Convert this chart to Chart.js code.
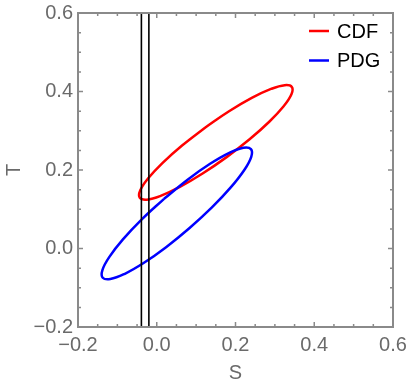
<!DOCTYPE html>
<html>
<head>
<meta charset="utf-8">
<script src="https://cdn.jsdelivr.net/npm/chart.js@4.4.0/dist/chart.umd.min.js"></script>
<style>
  html, body { margin: 0; padding: 0; background: #fff; }
  #chart { display: block; }
</style>
</head>
<body>
<canvas id="chart" width="409" height="389"></canvas>
<script>
// Ellipse outlines (S, T), walked round once
const cdfS = [0.1226, 0.0643, 0.0143, -0.0223, -0.0421, -0.0431, -0.0251, 0.0099, 0.0587, 0.1164, 0.1774,
              0.2358, 0.2857, 0.3223, 0.3421, 0.3431, 0.3251, 0.2901, 0.2413, 0.1836, 0.1226];
const cdfT = [0.3078, 0.2624, 0.2177, 0.1782, 0.1477, 0.1292, 0.1245, 0.1341, 0.1570, 0.1910, 0.2328,
              0.2782, 0.3229, 0.3624, 0.3929, 0.4114, 0.4161, 0.4065, 0.3836, 0.3496, 0.3078];

const pdgS = [0.0186, -0.0380, -0.0859, -0.1203, -0.1380, -0.1372, -0.1180, -0.0822, -0.0334, 0.0237, 0.0834,
              0.1401, 0.1879, 0.2223, 0.2400, 0.2392, 0.2200, 0.1842, 0.1354, 0.0783, 0.0186];
const pdgT = [0.1266, 0.0742, 0.0232, -0.0213, -0.0549, -0.0744, -0.0779, -0.0650, -0.0370, 0.0034, 0.0522,
              0.1046, 0.1556, 0.2001, 0.2337, 0.2532, 0.2567, 0.2438, 0.2158, 0.1754, 0.1266];

// vertical bounds on S
const boundS = [-0.039, -0.020];

const axisMin = -0.2;
const axisMax = 0.6;
const majorStep = 0.2;
const minorStep = 0.05;

const seriesNames = ["CDF", "PDG"];
const seriesColors = ["#ff0000", "#0000ff"];

const toPoints = (xs, ys) => xs.map((x, i) => ({ x: x, y: ys[i] }));

const fmt = v => {
  if (Math.abs(v) < 1e-9) v = 0;
  return v.toFixed(1).replace("-", "\u2212");
};

const frameColor = "#8a8a8a";
const labelColor = "#6a6a6a";

// frame with inward ticks on all four sides
const framePlugin = {
  id: "frame",
  afterDraw(chart) {
    const { ctx, chartArea: a, scales } = chart;
    const xs = scales.x, ys = scales.y;
    ctx.save();
    ctx.strokeStyle = frameColor;
    ctx.lineWidth = 1.5;
    const n = Math.round((axisMax - axisMin) / minorStep);
    for (let i = 0; i <= n; i++) {
      const v = axisMin + i * minorStep;
      const major = i % Math.round(majorStep / minorStep) === 0;
      const len = major ? 5 : 3;
      const px = xs.getPixelForValue(v);
      const py = ys.getPixelForValue(v);
      ctx.beginPath();
      ctx.moveTo(px, a.bottom); ctx.lineTo(px, a.bottom - len);
      ctx.moveTo(px, a.top); ctx.lineTo(px, a.top + len);
      ctx.moveTo(a.left, py); ctx.lineTo(a.left + len, py);
      ctx.moveTo(a.right, py); ctx.lineTo(a.right - len, py);
      ctx.stroke();
    }
    ctx.lineWidth = 2;
    ctx.strokeRect(a.left, a.top, a.right - a.left, a.bottom - a.top);
    ctx.restore();
  }
};

// legend inside the top right corner
const legendPlugin = {
  id: "insideLegend",
  afterDraw(chart) {
    const { ctx } = chart;
    ctx.save();
    ctx.font = "20px 'Liberation Sans', Arial, sans-serif";
    ctx.textBaseline = "middle";
    ctx.fillStyle = "#000";
    seriesNames.forEach((name, i) => {
      const y = 31 + i * 29.5;
      ctx.strokeStyle = seriesColors[i];
      ctx.lineWidth = 2.5;
      ctx.beginPath();
      ctx.moveTo(309, y);
      ctx.lineTo(329, y);
      ctx.stroke();
      ctx.fillText(name, 337, y + 1);
    });
    ctx.restore();
  }
};

const ctx = document.getElementById("chart").getContext("2d");
new Chart(ctx, {
  type: "scatter",
  data: {
    datasets: [
      {
        label: seriesNames[0],
        data: toPoints(cdfS, cdfT),
        showLine: true,
        borderColor: seriesColors[0],
        borderWidth: 2.5,
        pointRadius: 0,
        tension: 0.4,
        fill: false,
        order: 2
      },
      {
        label: seriesNames[1],
        data: toPoints(pdgS, pdgT),
        showLine: true,
        borderColor: seriesColors[1],
        borderWidth: 2.5,
        pointRadius: 0,
        tension: 0.4,
        fill: false,
        order: 1
      },
      ...boundS.map(s => ({
        label: "bound",
        data: [{ x: s, y: axisMin }, { x: s, y: axisMax }],
        showLine: true,
        borderColor: "#000",
        borderWidth: 1.6,
        pointRadius: 0,
        order: 0
      }))
    ]
  },
  options: {
    responsive: false,
    animation: false,
    devicePixelRatio: 1,
    layout: { padding: { top: 13, right: 16, left: 0, bottom: 0 } },
    plugins: {
      legend: { display: false },
      tooltip: { enabled: false }
    },
    scales: {
      x: {
        type: "linear",
        min: axisMin,
        max: axisMax,
        afterFit: s => { s.height = 62; s.paddingLeft = 0; s.paddingRight = 16; },
        grid: { display: false, drawTicks: false },
        border: { display: false },
        ticks: {
          stepSize: majorStep,
          padding: 6,
          color: labelColor,
          font: { family: "'Liberation Sans', Arial, sans-serif", size: 20 },
          callback: v => fmt(v)
        },
        title: {
          display: true,
          text: "S",
          color: labelColor,
          padding: 4,
          font: { family: "'Liberation Sans', Arial, sans-serif", size: 20 }
        }
      },
      y: {
        type: "linear",
        min: axisMin,
        max: axisMax,
        afterFit: s => { s.width = 78; s.paddingTop = 0; s.paddingBottom = 0; },
        grid: { display: false, drawTicks: false },
        border: { display: false },
        ticks: {
          stepSize: majorStep,
          padding: 5,
          color: labelColor,
          font: { family: "'Liberation Sans', Arial, sans-serif", size: 20 },
          callback: v => fmt(v)
        },
        title: {
          display: true,
          text: "T",
          color: labelColor,
          padding: 2,
          font: { family: "'Liberation Sans', Arial, sans-serif", size: 20 }
        }
      }
    }
  },
  plugins: [framePlugin, legendPlugin]
});
</script>
</body>
</html>
